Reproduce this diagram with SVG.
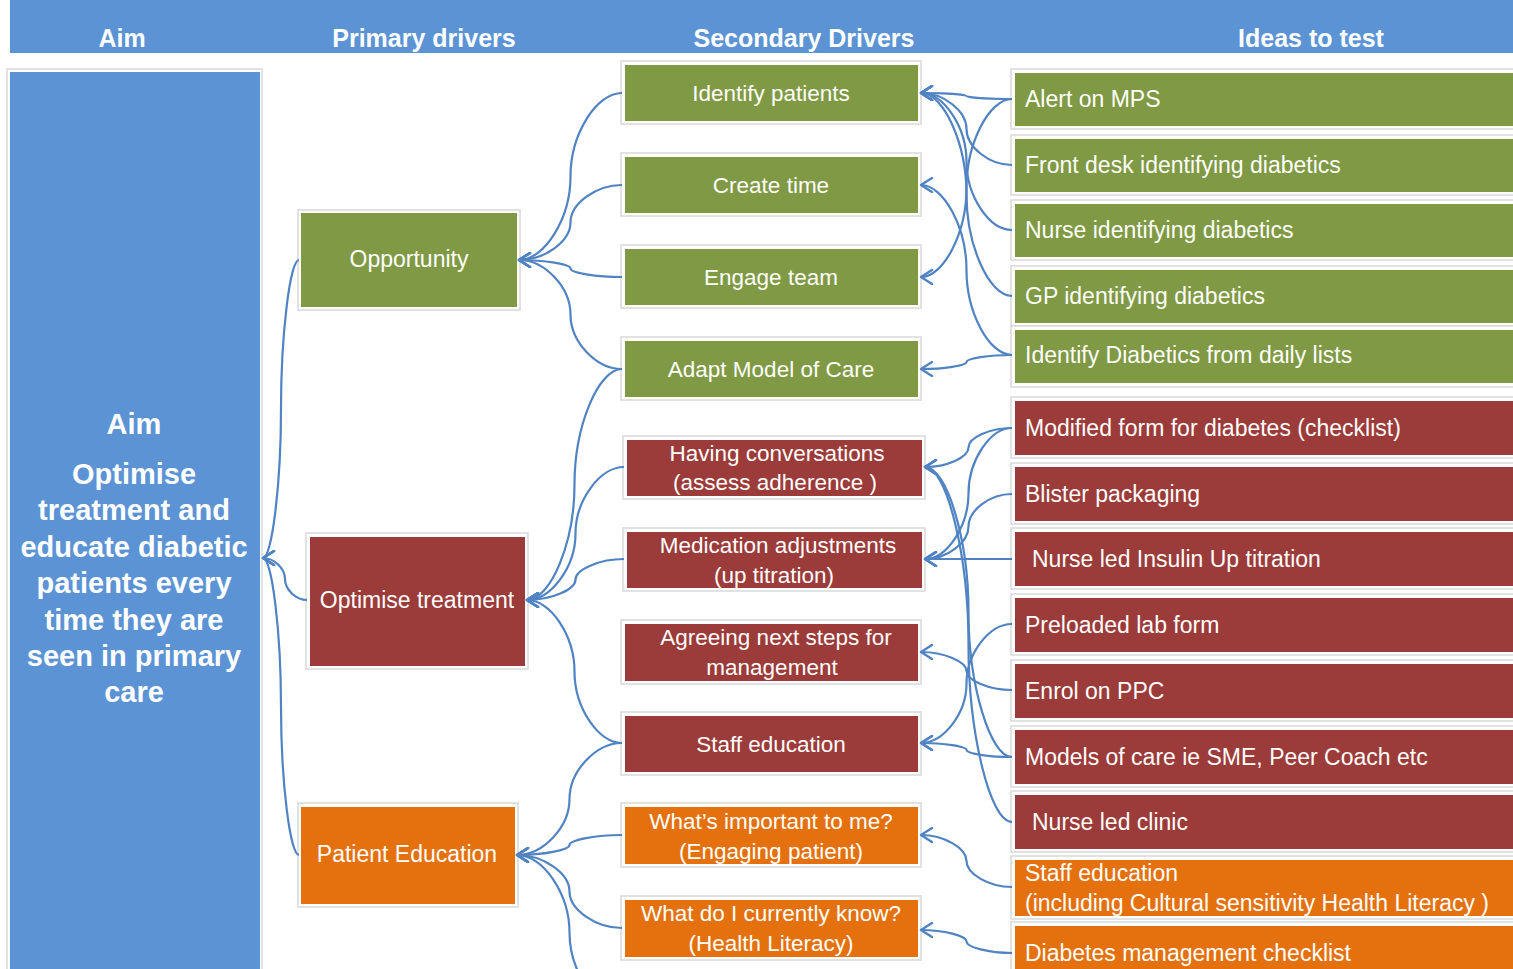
<svg xmlns="http://www.w3.org/2000/svg" width="1513" height="969" viewBox="0 0 1513 969">
<style>
text{font-family:"Liberation Sans",Arial,sans-serif;fill:#fff;dominant-baseline:central}
.hd{font-size:25px;font-weight:bold;text-anchor:middle}
.aim{font-size:29px;font-weight:bold;text-anchor:middle}
.pt{font-size:23px;text-anchor:middle}
.st{font-size:22.5px;text-anchor:middle}
.it{font-size:23px}
.fr{fill:#fff;stroke:#d9d9d9;stroke-width:1.5}
.g{fill:#7F9944}
.r{fill:#9B3B3A}
.o{fill:#E4710E}
.b{fill:#5B93D5}
#connectors path{fill:none;stroke:#5083C2;stroke-width:2.2;marker-end:url(#ah)}
</style>
<defs>
<marker id="ah" viewBox="-1 -8 15 16" markerWidth="15" markerHeight="16" refX="12" refY="0" orient="auto" markerUnits="userSpaceOnUse">
<path d="M1,-7 L12,0 L1,7" fill="none" stroke="#5083C2" stroke-width="2.4" stroke-linejoin="round" stroke-linecap="round"/>
</marker>
</defs>
<rect width="1513" height="969" fill="#fff"/>
<g id="header">
<rect x="10" y="0" width="1503" height="53" class="b"/>
<text class="hd" x="122" y="38">Aim</text>
<text class="hd" x="424" y="38">Primary drivers</text>
<text class="hd" x="804" y="38">Secondary Drivers</text>
<text class="hd" x="1311" y="38">Ideas to test</text>
</g>
<g id="aim">
<rect x="7" y="69" width="255" height="910" class="fr"/>
<rect x="10" y="72" width="250" height="900" class="b"/>
<text class="aim" x="134" y="424">Aim</text>
<text class="aim" x="134" y="474">Optimise</text>
<text class="aim" x="134" y="510">treatment and</text>
<text class="aim" x="134" y="547">educate diabetic</text>
<text class="aim" x="134" y="583">patients every</text>
<text class="aim" x="134" y="620">time they are</text>
<text class="aim" x="134" y="656">seen in primary</text>
<text class="aim" x="134" y="692">care</text>
</g>
<g id="p-opportunity">
<rect x="298" y="210" width="222" height="100" class="fr"/>
<rect x="301" y="213" width="216" height="94" class="g"/>
<text class="pt" x="409" y="259">Opportunity</text>
</g>
<g id="p-optimise">
<rect x="306" y="533" width="222" height="136" class="fr"/>
<rect x="310" y="537" width="215" height="129" class="r"/>
<text class="pt" x="417" y="600">Optimise treatment</text>
</g>
<g id="p-education">
<rect x="298" y="803" width="220" height="104" class="fr"/>
<rect x="301" y="807" width="214" height="97" class="o"/>
<text class="pt" x="407" y="854">Patient Education</text>
</g>
<g id="s-identify">
<rect x="621" y="61" width="300" height="63" class="fr"/>
<rect x="625" y="65" width="293" height="56" class="g"/>
<text class="st" x="771" y="93">Identify patients</text>
</g>
<g id="s-create">
<rect x="621" y="153" width="300" height="63" class="fr"/>
<rect x="625" y="157" width="293" height="56" class="g"/>
<text class="st" x="771" y="185">Create time</text>
</g>
<g id="s-engage">
<rect x="621" y="245" width="300" height="63" class="fr"/>
<rect x="625" y="249" width="293" height="56" class="g"/>
<text class="st" x="771" y="277">Engage team</text>
</g>
<g id="s-adapt">
<rect x="621" y="337" width="300" height="63" class="fr"/>
<rect x="625" y="341" width="293" height="56" class="g"/>
<text class="st" x="771" y="369">Adapt Model of Care</text>
</g>
<g id="s-conversations">
<rect x="623" y="436" width="302" height="63" class="fr"/>
<rect x="627" y="440" width="295" height="56" class="r"/>
<text class="st" x="777" y="453">Having conversations</text>
<text class="st" x="775" y="482">(assess  adherence )</text>
</g>
<g id="s-medication">
<rect x="623" y="528" width="302" height="63" class="fr"/>
<rect x="627" y="532" width="295" height="56" class="r"/>
<text class="st" x="778" y="545">Medication adjustments</text>
<text class="st" x="774" y="575">(up titration)</text>
</g>
<g id="s-agreeing">
<rect x="621" y="620" width="300" height="64" class="fr"/>
<rect x="625" y="624" width="293" height="57" class="r"/>
<text class="st" x="776" y="637">Agreeing next steps for</text>
<text class="st" x="772" y="667">management</text>
</g>
<g id="s-staff">
<rect x="621" y="712" width="300" height="63" class="fr"/>
<rect x="625" y="716" width="293" height="56" class="r"/>
<text class="st" x="771" y="744">Staff education</text>
</g>
<g id="s-important">
<rect x="621" y="803" width="300" height="64" class="fr"/>
<rect x="625" y="807" width="293" height="57" class="o"/>
<text class="st" x="771" y="821">What’s important to me?</text>
<text class="st" x="771" y="851">(Engaging patient)</text>
</g>
<g id="s-know">
<rect x="621" y="896" width="300" height="64" class="fr"/>
<rect x="625" y="900" width="293" height="57" class="o"/>
<text class="st" x="771" y="913">What do I currently know?</text>
<text class="st" x="771" y="943">(Health Literacy)</text>
</g>
<g id="i-alert">
<rect x="1011" y="69" width="510" height="60" class="fr"/>
<rect x="1015" y="73" width="498" height="53" class="g"/>
<text class="it" x="1025" y="99">Alert on MPS</text>
</g>
<g id="i-frontdesk">
<rect x="1011" y="135" width="510" height="60" class="fr"/>
<rect x="1015" y="139" width="498" height="53" class="g"/>
<text class="it" x="1025" y="165">Front desk identifying diabetics</text>
</g>
<g id="i-nurse">
<rect x="1011" y="200" width="510" height="60" class="fr"/>
<rect x="1015" y="204" width="498" height="53" class="g"/>
<text class="it" x="1025" y="230">Nurse identifying diabetics</text>
</g>
<g id="i-gp">
<rect x="1011" y="266" width="510" height="60" class="fr"/>
<rect x="1015" y="270" width="498" height="53" class="g"/>
<text class="it" x="1025" y="296">GP identifying diabetics</text>
</g>
<g id="i-dailylists">
<rect x="1011" y="326" width="510" height="61" class="fr"/>
<rect x="1015" y="330" width="498" height="53" class="g"/>
<text class="it" x="1025" y="355">Identify Diabetics from daily lists</text>
</g>
<g id="i-modified">
<rect x="1011" y="397" width="510" height="61" class="fr"/>
<rect x="1015" y="401" width="498" height="54" class="r"/>
<text class="it" x="1025" y="428">Modified form for diabetes (checklist)</text>
</g>
<g id="i-blister">
<rect x="1011" y="463" width="510" height="61" class="fr"/>
<rect x="1015" y="467" width="498" height="54" class="r"/>
<text class="it" x="1025" y="494">Blister packaging</text>
</g>
<g id="i-insulin">
<rect x="1011" y="528" width="510" height="61" class="fr"/>
<rect x="1015" y="532" width="498" height="54" class="r"/>
<text class="it" x="1032" y="559">Nurse led Insulin Up titration</text>
</g>
<g id="i-preloaded">
<rect x="1011" y="594" width="510" height="61" class="fr"/>
<rect x="1015" y="598" width="498" height="54" class="r"/>
<text class="it" x="1025" y="625">Preloaded lab form</text>
</g>
<g id="i-ppc">
<rect x="1011" y="660" width="510" height="61" class="fr"/>
<rect x="1015" y="664" width="498" height="54" class="r"/>
<text class="it" x="1025" y="691">Enrol on PPC</text>
</g>
<g id="i-models">
<rect x="1011" y="726" width="510" height="61" class="fr"/>
<rect x="1015" y="730" width="498" height="54" class="r"/>
<text class="it" x="1025" y="757">Models of care ie SME, Peer Coach etc</text>
</g>
<g id="i-clinic">
<rect x="1011" y="791" width="510" height="61" class="fr"/>
<rect x="1015" y="795" width="498" height="54" class="r"/>
<text class="it" x="1032" y="822">Nurse led clinic</text>
</g>
<g id="i-staffed">
<rect x="1011" y="856" width="510" height="63" class="fr"/>
<rect x="1015" y="860" width="498" height="56" class="o"/>
<text class="it" x="1025" y="873">Staff education</text>
<text class="it" x="1025" y="903">(including Cultural sensitivity Health Literacy )</text>
</g>
<g id="i-checklist">
<rect x="1011" y="922" width="510" height="60" class="fr"/>
<rect x="1015" y="926" width="498" height="50" class="o"/>
<text class="it" x="1025" y="953">Diabetes management checklist</text>
</g>
<g id="connectors">
<path d="M299,260 C290,260 281,334.5 281,409 C281,483.5 272,558 263,558"/>
<path d="M307,600 C296,600 285,589.5 285,579 C285,568.5 274,558 263,558"/>
<path d="M299,855 C290,855 281,780.75 281,706.5 C281,632.25 272,558 263,558"/>
<path d="M622,93 C596,93 570.5,134.75 570.5,176.5 C570.5,218.25 544.75,260 519,260"/>
<path d="M622,185 C596,185 570.5,203.75 570.5,222.5 C570.5,241.25 544.75,260 519,260"/>
<path d="M622,277 C596,277 570.5,272.75 570.5,268.5 C570.5,264.25 544.75,260 519,260"/>
<path d="M622,369 C596,369 570.5,341.75 570.5,314.5 C570.5,287.25 544.75,260 519,260"/>
<path d="M622,369 C598,369 574.5,426.75 574.5,484.5 C574.5,542.25 550.75,600 527,600"/>
<path d="M624,467 C600,467 575.5,500.25 575.5,533.5 C575.5,566.75 551.25,600 527,600"/>
<path d="M624,559 C600,559 575.5,569.25 575.5,579.5 C575.5,589.75 551.25,600 527,600"/>
<path d="M622,743 C598,743 574.5,707.25 574.5,671.5 C574.5,635.75 550.75,600 527,600"/>
<path d="M622,743 C596,743 569.5,771 569.5,799 C569.5,827 543.25,855 517,855"/>
<path d="M622,835 C596,835 569.5,840 569.5,845 C569.5,850 543.25,855 517,855"/>
<path d="M622,928 C596,928 569.5,909.75 569.5,891.5 C569.5,873.25 543.25,855 517,855"/>
<path d="M622,1010 C596,1010 569.5,971 569.5,932.5 C569.5,894 543.25,855 517,855"/>
<path d="M1012,99 C989,99 966.5,97.5 966.5,96 C966.5,94.5 943.75,93 921,93"/>
<path d="M1012,165 C989,165 966.5,147 966.5,129 C966.5,111 943.75,93 921,93"/>
<path d="M1012,230 C989,230 966.5,195.75 966.5,161.5 C966.5,127.25 943.75,93 921,93"/>
<path d="M1012,296 C989,296 966.5,245.25 966.5,194.5 C966.5,143.75 943.75,93 921,93"/>
<path d="M1012,355 C989,355 966.5,312.5 966.5,270 C966.5,227.5 943.75,185 921,185"/>
<path d="M1012,99 C989,99 966.5,143.5 966.5,188 C966.5,232.5 943.75,277 921,277"/>
<path d="M1012,355 C989,355 966.5,358.5 966.5,362 C966.5,365.5 943.75,369 921,369"/>
<path d="M1012,428 C990,428 968.5,437.75 968.5,447.5 C968.5,457.25 946.75,467 925,467"/>
<path d="M1012,757 C990,757 968.5,684.5 968.5,612 C968.5,539.5 946.75,467 925,467"/>
<path d="M1012,822 C990,822 968.5,733.25 968.5,644.5 C968.5,555.75 946.75,467 925,467"/>
<path d="M1012,428 C990,428 968.5,460.75 968.5,493.5 C968.5,526.25 946.75,559 925,559"/>
<path d="M1012,494 C990,494 968.5,510.25 968.5,526.5 C968.5,542.75 946.75,559 925,559"/>
<path d="M1012,559 L925,559"/>
<path d="M1012,690 C989,690 966.5,680.5 966.5,671 C966.5,661.5 943.75,652 921,652"/>
<path d="M1012,624 C989,624 966.5,653.75 966.5,683.5 C966.5,713.25 943.75,743 921,743"/>
<path d="M1012,757 C989,757 966.5,753.5 966.5,750 C966.5,746.5 943.75,743 921,743"/>
<path d="M1012,887 C989,887 966.5,874 966.5,861 C966.5,848 943.75,835 921,835"/>
<path d="M1012,953 C989,953 966.5,947.25 966.5,941.5 C966.5,935.75 943.75,930 921,930"/>
</g>
</svg>
